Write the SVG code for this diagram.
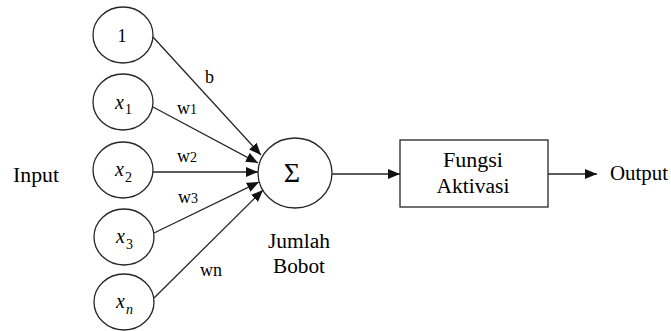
<svg xmlns="http://www.w3.org/2000/svg" width="671" height="331" viewBox="0 0 671 331" font-family="'Liberation Serif', 'DejaVu Serif', serif">
<style>
  .node { fill: #ffffff; stroke: #262626; stroke-width: 1.3; }
  .conn { stroke: #262626; stroke-width: 1.3; fill: none; marker-end: url(#arrow); }
  text { font-family: 'Liberation Serif', 'DejaVu Serif', serif; fill: #000000; }
  .lbl { font-size: 20px; }
  .w { font-size: 18px; }
  .var { font-size: 20px; font-style: italic; }
  .sub { font-size: 14px; }
</style>
<defs>
  <marker id="arrow" markerUnits="userSpaceOnUse" markerWidth="12" markerHeight="10" viewBox="0 0 12 10" refX="12" refY="5" orient="auto">
    <path d="M0,0 L12,5 L0,10 Z" fill="#111111"/>
  </marker>
</defs>
<rect width="671" height="331" fill="#ffffff"/>

<g id="connectors">
  <line class="conn" x1="153" y1="37" x2="261" y2="155"/>
  <line class="conn" x1="153" y1="107" x2="258" y2="163"/>
  <line class="conn" x1="153" y1="172" x2="258" y2="172"/>
  <line class="conn" x1="154" y1="233" x2="259" y2="182"/>
  <line class="conn" x1="154" y1="298" x2="263" y2="190"/>
  <line class="conn" x1="331" y1="174" x2="400" y2="174"/>
  <line class="conn" x1="548" y1="174" x2="597" y2="174"/>
  <text class="w" x="205" y="83">b</text>
  <text class="w" x="177" y="114">w<tspan font-size="14">1</tspan></text>
  <text class="w" x="177" y="162">w<tspan font-size="14">2</tspan></text>
  <text class="w" x="178" y="203">w<tspan font-size="14">3</tspan></text>
  <text class="w" x="200" y="276">w<tspan>n</tspan></text>
</g>

<g id="label-input">
  <text class="lbl" x="13" y="182" textLength="46" lengthAdjust="spacingAndGlyphs">Input</text>
</g>

<g id="node-bias">
  <ellipse class="node" cx="123" cy="35" rx="30" ry="28"/>
  <text x="122" y="42" font-size="18" text-anchor="middle">1</text>
</g>
<g id="node-x1">
  <ellipse class="node" cx="123" cy="102" rx="30" ry="28"/>
  <text x="115" y="109"><tspan class="var">x</tspan><tspan class="sub" dx="1" dy="5">1</tspan></text>
</g>
<g id="node-x2">
  <ellipse class="node" cx="123" cy="170" rx="30" ry="28"/>
  <text x="115" y="176"><tspan class="var">x</tspan><tspan class="sub" dx="1" dy="6">2</tspan></text>
</g>
<g id="node-x3">
  <ellipse class="node" cx="124" cy="237" rx="30" ry="28"/>
  <text x="116" y="243"><tspan class="var">x</tspan><tspan class="sub" dx="1" dy="6">3</tspan></text>
</g>
<g id="node-xn">
  <ellipse class="node" cx="124" cy="302" rx="30" ry="28"/>
  <text x="116" y="308"><tspan class="var">x</tspan><tspan class="sub" font-style="italic" dx="1" dy="6">n</tspan></text>
</g>

<g id="node-sum">
  <ellipse class="node" cx="295" cy="173" rx="37" ry="35"/>
  <text x="292" y="182" font-size="28" text-anchor="middle">Σ</text>
  <text class="lbl" x="299" y="248" text-anchor="middle" textLength="62" lengthAdjust="spacingAndGlyphs">Jumlah</text>
  <text class="lbl" x="299" y="273" text-anchor="middle" textLength="52" lengthAdjust="spacingAndGlyphs">Bobot</text>
</g>

<g id="node-activation">
  <rect class="node" x="400" y="140" width="148" height="67"/>
  <text class="lbl" x="473" y="167" text-anchor="middle" textLength="60" lengthAdjust="spacingAndGlyphs">Fungsi</text>
  <text class="lbl" x="473" y="193" text-anchor="middle" textLength="73" lengthAdjust="spacingAndGlyphs">Aktivasi</text>
</g>

<g id="label-output">
  <text class="lbl" x="610" y="180" textLength="58" lengthAdjust="spacingAndGlyphs">Output</text>
</g>
</svg>
